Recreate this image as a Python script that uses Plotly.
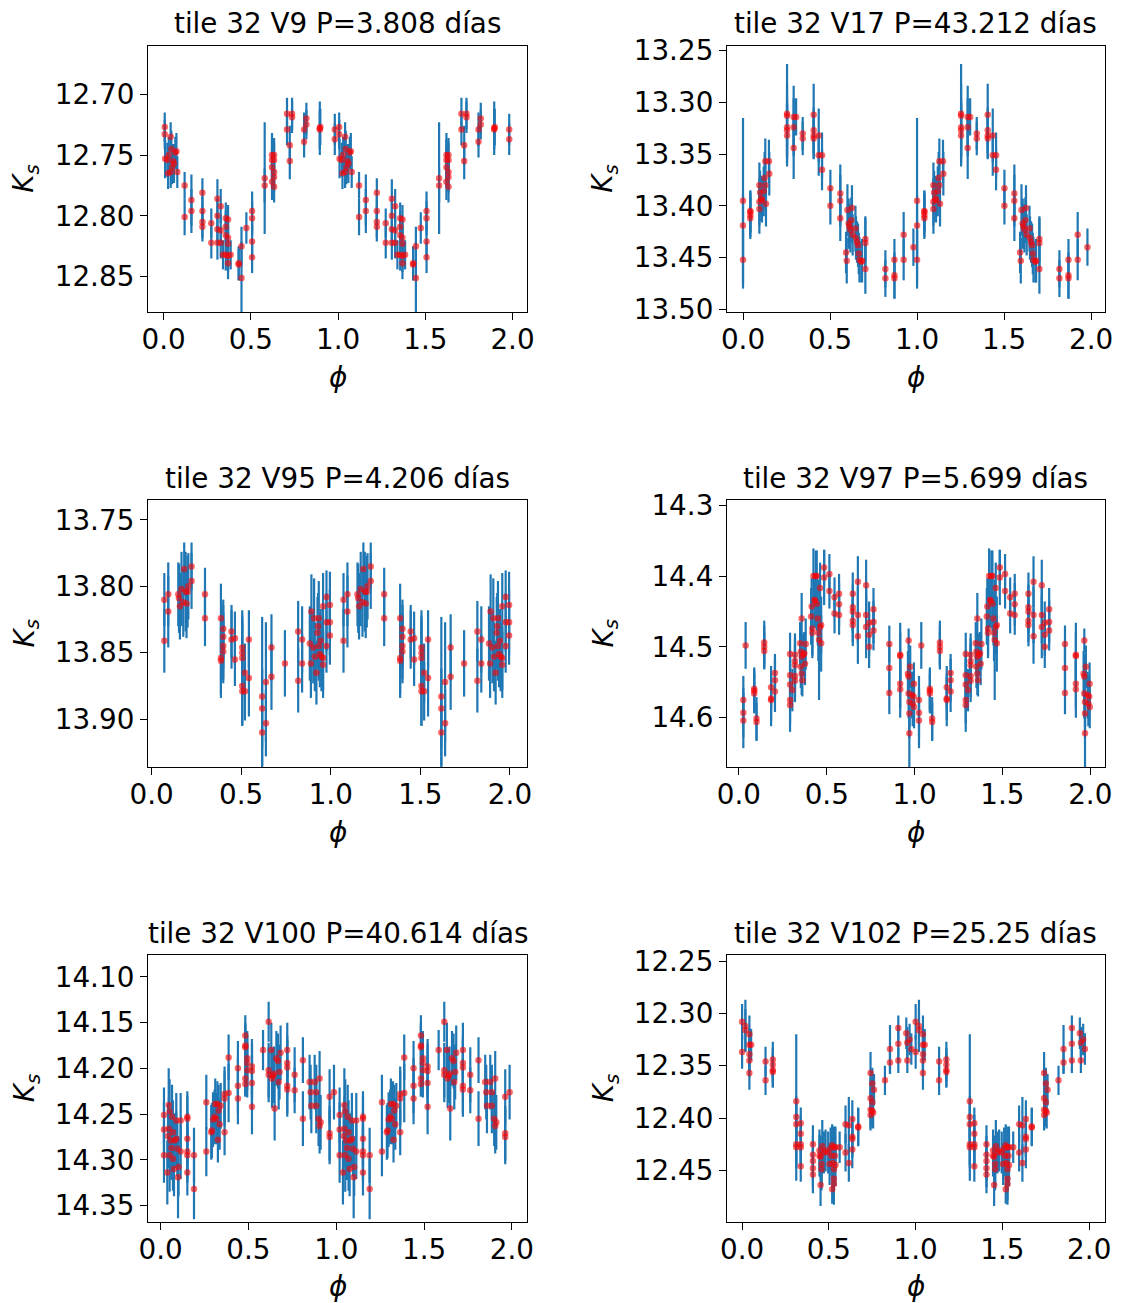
import numpy as np
import plotly.graph_objects as go

# ---- light-curve data (phase in [0, 1), Ks magnitude, error) ----
v9_phase = [0.006, 0.006, 0.008, 0.021, 0.025, 0.029, 0.040, 0.040, 0.044, 0.048, 0.054, 0.059, 0.067, 0.073, 0.078,
            0.120, 0.120, 0.159, 0.159, 0.222, 0.222, 0.222, 0.222, 0.273, 0.273, 0.308, 0.308, 0.308, 0.308,
            0.327, 0.327, 0.327, 0.340, 0.356, 0.356, 0.356, 0.356, 0.369, 0.369, 0.369, 0.369, 0.369, 0.384,
            0.430, 0.430, 0.446, 0.446, 0.474, 0.507, 0.507, 0.507, 0.507, 0.579, 0.579,
            0.621, 0.621, 0.621, 0.621, 0.633, 0.633, 0.633, 0.633, 0.633, 0.707, 0.707, 0.723, 0.723,
            0.736, 0.736, 0.805, 0.805, 0.818, 0.818, 0.895, 0.895, 0.898, 0.981, 0.981]
v9_mag = [12.727, 12.733, 12.753, 12.754, 12.765, 12.750, 12.735, 12.764, 12.745, 12.760, 12.755, 12.757, 12.748, 12.747, 12.764,
          12.775, 12.801, 12.787, 12.796, 12.781, 12.796, 12.805, 12.809, 12.806, 12.822, 12.786, 12.800, 12.811, 12.822,
          12.792, 12.812, 12.822, 12.832, 12.802, 12.809, 12.816, 12.832, 12.803, 12.818, 12.823, 12.833, 12.839, 12.832,
          12.839, 12.840, 12.825, 12.851, 12.810, 12.796, 12.802, 12.821, 12.834, 12.769, 12.775,
          12.750, 12.754, 12.760, 12.772, 12.750, 12.754, 12.764, 12.768, 12.776, 12.716, 12.729, 12.742, 12.755,
          12.716, 12.719, 12.729, 12.739, 12.720, 12.725, 12.728, 12.729, 12.727, 12.729, 12.737]
v9_err = [0.012, 0.012, 0.016, 0.014, 0.013, 0.015, 0.012, 0.013, 0.015, 0.014, 0.014, 0.016, 0.013, 0.015, 0.013,
          0.011, 0.015, 0.021, 0.018, 0.012, 0.012, 0.013, 0.012, 0.012, 0.013, 0.016, 0.014, 0.013, 0.014,
          0.014, 0.013, 0.013, 0.012, 0.013, 0.013, 0.014, 0.013, 0.012, 0.013, 0.014, 0.013, 0.013, 0.012,
          0.014, 0.013, 0.016, 0.030, 0.013, 0.016, 0.014, 0.014, 0.013, 0.046, 0.014,
          0.018, 0.017, 0.016, 0.015, 0.014, 0.014, 0.014, 0.013, 0.013, 0.013, 0.013, 0.016, 0.015,
          0.013, 0.013, 0.014, 0.013, 0.013, 0.012, 0.022, 0.016, 0.015, 0.013, 0.013]

v17_phase = [0.000, 0.000, 0.000, 0.042, 0.042, 0.042, 0.042, 0.094, 0.098, 0.094, 0.094, 0.105, 0.109, 0.119, 0.124,
             0.128, 0.132, 0.149, 0.151, 0.128, 0.253, 0.253, 0.253, 0.253, 0.253, 0.291, 0.291, 0.291, 0.305,
             0.343, 0.343, 0.406, 0.406, 0.406, 0.406, 0.435, 0.435, 0.454, 0.454, 0.502, 0.502,
             0.559, 0.559, 0.559, 0.592, 0.596, 0.600, 0.607, 0.611, 0.617, 0.622, 0.626, 0.630, 0.646, 0.649,
             0.655, 0.661, 0.665, 0.669, 0.680, 0.684, 0.703, 0.703, 0.703, 0.818, 0.818, 0.870, 0.870, 0.870,
             0.923, 0.923, 0.979]
v17_mag = [13.395, 13.419, 13.452, 13.405, 13.406, 13.409, 13.412, 13.380, 13.387, 13.396, 13.403, 13.393, 13.394, 13.386, 13.373,
           13.357, 13.398, 13.357, 13.369, 13.380, 13.311, 13.313, 13.324, 13.327, 13.332, 13.314, 13.324, 13.344, 13.314,
           13.330, 13.335, 13.312, 13.327, 13.332, 13.335, 13.332, 13.351, 13.351, 13.365, 13.383, 13.400,
           13.388, 13.395, 13.412, 13.445, 13.453, 13.404, 13.417, 13.420, 13.423, 13.414, 13.402, 13.428, 13.422, 13.431,
           13.435, 13.438, 13.446, 13.452, 13.454, 13.453, 13.432, 13.436, 13.461, 13.461, 13.470, 13.452, 13.467, 13.470,
           13.428, 13.452, 13.440]
v17_err = [0.080, 0.030, 0.028, 0.020, 0.020, 0.021, 0.020, 0.022, 0.021, 0.023, 0.024, 0.022, 0.022, 0.024, 0.025,
           0.022, 0.022, 0.021, 0.021, 0.023, 0.048, 0.030, 0.028, 0.026, 0.030, 0.030, 0.028, 0.030, 0.018,
           0.016, 0.016, 0.030, 0.022, 0.022, 0.020, 0.026, 0.020, 0.022, 0.020, 0.018, 0.018,
           0.028, 0.025, 0.022, 0.020, 0.022, 0.025, 0.024, 0.022, 0.022, 0.022, 0.022, 0.020, 0.022, 0.021,
           0.020, 0.021, 0.020, 0.022, 0.020, 0.021, 0.022, 0.024, 0.024, 0.018, 0.018, 0.020, 0.022, 0.020,
           0.022, 0.020, 0.018]

v95_phase = [0.071, 0.071, 0.093, 0.093, 0.149, 0.153, 0.158, 0.167, 0.177, 0.182, 0.190, 0.195, 0.201, 0.205, 0.223, 0.223,
             0.298, 0.298, 0.387, 0.387, 0.387, 0.400, 0.400, 0.400, 0.400, 0.446, 0.446, 0.465, 0.465,
             0.506, 0.506, 0.506, 0.506, 0.506, 0.521, 0.521, 0.543, 0.543, 0.617, 0.617, 0.617, 0.638, 0.638,
             0.669, 0.669, 0.744, 0.818, 0.818, 0.840, 0.840, 0.883, 0.889, 0.892, 0.902, 0.907, 0.911, 0.920,
             0.926, 0.929, 0.933, 0.933, 0.939, 0.944, 0.948, 0.957, 0.957, 0.957, 0.976, 0.976, 0.976,
             0.995, 0.995, 0.995]
v95_mag = [13.810, 13.841, 13.806, 13.819, 13.806, 13.809, 13.815, 13.802, 13.812, 13.787, 13.804, 13.813, 13.804, 13.800, 13.785, 13.796,
           13.806, 13.824, 13.824, 13.854, 13.856, 13.832, 13.838, 13.845, 13.849, 13.834, 13.840, 13.839, 13.855,
           13.846, 13.850, 13.854, 13.875, 13.879, 13.865, 13.879, 13.840, 13.869, 13.883, 13.892, 13.910, 13.872, 13.903,
           13.846, 13.868, 13.858, 13.834, 13.871, 13.840, 13.858, 13.843, 13.858, 13.819, 13.846, 13.824, 13.853, 13.865,
           13.835, 13.830, 13.824, 13.845, 13.851, 13.841, 13.853, 13.815, 13.859, 13.854, 13.808, 13.827, 13.845,
           13.814, 13.827, 13.837]
v95_err = [0.020, 0.024, 0.024, 0.027, 0.024, 0.026, 0.025, 0.028, 0.026, 0.020, 0.030, 0.026, 0.027, 0.025, 0.018, 0.021,
           0.020, 0.021, 0.026, 0.030, 0.025, 0.022, 0.024, 0.025, 0.024, 0.020, 0.022, 0.020, 0.020,
           0.028, 0.028, 0.028, 0.030, 0.026, 0.022, 0.022, 0.022, 0.029, 0.060, 0.030, 0.025, 0.045, 0.025,
           0.025, 0.025, 0.025, 0.023, 0.024, 0.025, 0.022, 0.028, 0.026, 0.028, 0.027, 0.030, 0.026, 0.024,
           0.027, 0.025, 0.028, 0.026, 0.025, 0.024, 0.026, 0.025, 0.025, 0.024, 0.020, 0.022, 0.020,
           0.025, 0.025, 0.022]

v97_phase = [0.025, 0.025, 0.025, 0.038, 0.087, 0.087, 0.087, 0.100, 0.100, 0.144, 0.144, 0.144, 0.183, 0.183, 0.183,
             0.205, 0.205, 0.205, 0.291, 0.291, 0.291, 0.291, 0.291, 0.304, 0.319, 0.319, 0.319, 0.319, 0.319,
             0.348, 0.352, 0.357, 0.352, 0.357, 0.361, 0.367, 0.376, 0.380, 0.357, 0.372,
             0.411, 0.414, 0.418, 0.424, 0.430, 0.433, 0.437, 0.443, 0.449, 0.452, 0.456, 0.462, 0.462, 0.468, 0.468,
             0.418, 0.443, 0.485, 0.485, 0.515, 0.515, 0.544, 0.544, 0.570, 0.570, 0.570,
             0.648, 0.648, 0.648, 0.648, 0.648, 0.677, 0.677, 0.677, 0.724, 0.724, 0.724, 0.741, 0.741, 0.741,
             0.766, 0.766, 0.766, 0.856, 0.856, 0.856, 0.918, 0.918, 0.918, 0.918,
             0.966, 0.962, 0.966, 0.966, 0.970, 0.970, 0.970, 0.975, 0.985, 0.989, 0.994, 0.996, 0.997]
v97_mag = [14.575, 14.593, 14.604, 14.498, 14.559, 14.562, 14.566, 14.601, 14.606, 14.494, 14.500, 14.506, 14.557, 14.573, 14.575,
           14.537, 14.547, 14.563, 14.510, 14.540, 14.553, 14.575, 14.582, 14.561, 14.511, 14.520, 14.526, 14.541, 14.548,
           14.495, 14.507, 14.514, 14.528, 14.538, 14.547, 14.511, 14.524, 14.496, 14.460, 14.509,
           14.457, 14.443, 14.474, 14.400, 14.434, 14.435, 14.400, 14.439, 14.460, 14.480, 14.490, 14.472, 14.417, 14.495, 14.469,
           14.480, 14.400, 14.388, 14.402, 14.397, 14.421, 14.430, 14.453, 14.425, 14.440, 14.455,
           14.425, 14.444, 14.450, 14.463, 14.469, 14.408, 14.455, 14.485, 14.413, 14.455, 14.472, 14.466, 14.483, 14.500,
           14.447, 14.465, 14.477, 14.496, 14.530, 14.565, 14.511, 14.513, 14.552, 14.560,
           14.491, 14.538, 14.542, 14.566, 14.578, 14.594, 14.622, 14.528, 14.568, 14.580, 14.570, 14.552, 14.585]
v97_err = [0.034, 0.035, 0.039, 0.033, 0.030, 0.030, 0.028, 0.030, 0.027, 0.031, 0.030, 0.026, 0.030, 0.030, 0.037,
           0.027, 0.030, 0.029, 0.030, 0.035, 0.035, 0.033, 0.038, 0.030, 0.030, 0.032, 0.030, 0.030, 0.030,
           0.030, 0.032, 0.030, 0.030, 0.030, 0.023, 0.030, 0.030, 0.036, 0.036, 0.030,
           0.040, 0.040, 0.038, 0.039, 0.038, 0.038, 0.036, 0.038, 0.038, 0.040, 0.085, 0.038, 0.036, 0.040, 0.040,
           0.036, 0.036, 0.025, 0.039, 0.028, 0.025, 0.028, 0.028, 0.028, 0.030, 0.028,
           0.030, 0.032, 0.030, 0.030, 0.030, 0.036, 0.040, 0.039, 0.036, 0.040, 0.044, 0.030, 0.030, 0.030,
           0.030, 0.030, 0.028, 0.026, 0.035, 0.030, 0.045, 0.033, 0.035, 0.040,
           0.017, 0.032, 0.032, 0.035, 0.035, 0.035, 0.050, 0.030, 0.033, 0.032, 0.030, 0.030, 0.030]

v100_phase = [0.019, 0.019, 0.019, 0.038, 0.042, 0.046, 0.047, 0.051, 0.051, 0.057, 0.061, 0.065, 0.070, 0.070, 0.076,
              0.080, 0.089, 0.089, 0.095, 0.099, 0.102, 0.114, 0.114, 0.152, 0.152, 0.152, 0.152, 0.152, 0.152,
              0.190, 0.190, 0.260, 0.260, 0.288, 0.292, 0.298, 0.307, 0.311, 0.317, 0.323, 0.326, 0.330, 0.336, 0.342,
              0.364, 0.364, 0.364, 0.387, 0.387, 0.440, 0.440, 0.440, 0.482, 0.482, 0.482, 0.482, 0.482,
              0.493, 0.493, 0.493, 0.520, 0.520, 0.520, 0.520, 0.583, 0.615, 0.615, 0.615,
              0.630, 0.634, 0.640, 0.645, 0.649, 0.659, 0.668, 0.672, 0.677, 0.683,
              0.721, 0.721, 0.721, 0.721, 0.721, 0.763, 0.763, 0.810, 0.810,
              0.848, 0.854, 0.858, 0.877, 0.886, 0.886, 0.899, 0.905, 0.905, 0.911, 0.962, 0.962, 0.962, 0.987]
v100_mag = [14.251, 14.267, 14.295, 14.314, 14.274, 14.240, 14.266, 14.247, 14.295, 14.279, 14.287, 14.253, 14.270, 14.299, 14.310,
            14.279, 14.257, 14.277, 14.288, 14.319, 14.308, 14.257, 14.291, 14.253, 14.255, 14.277, 14.291, 14.295, 14.314,
            14.295, 14.332, 14.237, 14.291, 14.270, 14.268, 14.256, 14.253, 14.239, 14.255, 14.239, 14.278, 14.246, 14.261, 14.241,
            14.228, 14.233, 14.270, 14.188, 14.227, 14.200, 14.219, 14.233, 14.164, 14.175, 14.177, 14.211, 14.217,
            14.189, 14.194, 14.202, 14.198, 14.203, 14.216, 14.242, 14.180, 14.149, 14.202, 14.207,
            14.180, 14.211, 14.208, 14.206, 14.244, 14.189, 14.192, 14.215, 14.204, 14.183,
            14.180, 14.194, 14.199, 14.219, 14.223, 14.207, 14.224, 14.191, 14.255,
            14.215, 14.226, 14.241, 14.215, 14.226, 14.241, 14.255, 14.211, 14.263, 14.259, 14.231, 14.271, 14.275, 14.226]
v100_err = [0.030, 0.030, 0.030, 0.035, 0.035, 0.040, 0.035, 0.035, 0.040, 0.035, 0.035, 0.035, 0.035, 0.035, 0.030,
            0.030, 0.030, 0.030, 0.030, 0.045, 0.032, 0.030, 0.030, 0.023, 0.030, 0.030, 0.030, 0.030, 0.025,
            0.030, 0.033, 0.030, 0.027, 0.030, 0.030, 0.030, 0.030, 0.028, 0.028, 0.025, 0.025, 0.028, 0.028, 0.025,
            0.030, 0.030, 0.025, 0.025, 0.032, 0.030, 0.030, 0.028, 0.022, 0.025, 0.025, 0.020, 0.013,
            0.030, 0.030, 0.030, 0.030, 0.030, 0.030, 0.030, 0.022, 0.022, 0.030, 0.030,
            0.030, 0.032, 0.030, 0.030, 0.035, 0.030, 0.030, 0.030, 0.030, 0.030,
            0.030, 0.030, 0.030, 0.030, 0.030, 0.030, 0.025, 0.025, 0.030,
            0.030, 0.030, 0.030, 0.030, 0.030, 0.030, 0.030, 0.030, 0.030, 0.030, 0.030, 0.030, 0.030, 0.030]

v102_phase = [0.000, 0.000, 0.019, 0.019, 0.042, 0.042, 0.042, 0.042, 0.042, 0.052, 0.135, 0.135,
              0.177, 0.177, 0.177, 0.177, 0.312, 0.312, 0.312, 0.312, 0.312, 0.338, 0.338, 0.338, 0.338, 0.338,
              0.408, 0.408, 0.408, 0.408, 0.408, 0.446, 0.446, 0.452, 0.452, 0.458, 0.458, 0.462, 0.471, 0.481,
              0.496, 0.504, 0.510, 0.515, 0.519, 0.523, 0.529, 0.529, 0.529, 0.529, 0.535, 0.538, 0.519, 0.538,
              0.562, 0.596, 0.596, 0.615, 0.615, 0.635, 0.635, 0.635, 0.635, 0.669, 0.669,
              0.740, 0.740, 0.740, 0.740, 0.750, 0.750, 0.750, 0.755, 0.760, 0.823, 0.852, 0.852,
              0.900, 0.900, 0.900, 0.946, 0.952, 0.952, 0.965, 0.975]
v102_mag = [12.308, 12.337, 12.312, 12.316, 12.320, 12.330, 12.339, 12.345, 12.357, 12.330, 12.346, 12.364,
            12.344, 12.349, 12.354, 12.356, 12.384, 12.399, 12.406, 12.425, 12.428, 12.405, 12.415, 12.425, 12.428, 12.446,
            12.425, 12.435, 12.441, 12.448, 12.454, 12.431, 12.436, 12.437, 12.464, 12.444, 12.449, 12.427, 12.433, 12.431,
            12.433, 12.444, 12.429, 12.436, 12.426, 12.443, 12.428, 12.449, 12.458, 12.463, 12.436, 12.428, 12.468, 12.445,
            12.428, 12.406, 12.433, 12.407, 12.443, 12.401, 12.418, 12.420, 12.430, 12.408, 12.409,
            12.357, 12.381, 12.392, 12.397, 12.367, 12.385, 12.393, 12.395, 12.373, 12.364, 12.334, 12.347,
            12.314, 12.329, 12.345, 12.319, 12.328, 12.345, 12.325, 12.334]
v102_err = [0.017, 0.016, 0.025, 0.020, 0.018, 0.016, 0.016, 0.016, 0.016, 0.015, 0.014, 0.014,
            0.017, 0.016, 0.016, 0.015, 0.064, 0.020, 0.020, 0.020, 0.032, 0.015, 0.018, 0.018, 0.018, 0.015,
            0.018, 0.018, 0.018, 0.018, 0.018, 0.020, 0.020, 0.020, 0.020, 0.020, 0.020, 0.025, 0.020, 0.020,
            0.020, 0.020, 0.020, 0.020, 0.020, 0.020, 0.020, 0.020, 0.020, 0.020, 0.020, 0.020, 0.014, 0.020,
            0.015, 0.018, 0.018, 0.027, 0.018, 0.018, 0.018, 0.018, 0.018, 0.018, 0.018,
            0.020, 0.020, 0.020, 0.013, 0.015, 0.015, 0.015, 0.015, 0.015, 0.014, 0.023, 0.011,
            0.012, 0.017, 0.012, 0.015, 0.015, 0.012, 0.015, 0.015]

titles = ["tile 32 V9 P=3.808 días", "tile 32 V17 P=43.212 días",
          "tile 32 V95 P=4.206 días", "tile 32 V97 P=5.699 días",
          "tile 32 V100 P=40.614 días", "tile 32 V102 P=25.25 días"]

stars = [(v9_phase, v9_mag, v9_err), (v17_phase, v17_mag, v17_err),
         (v95_phase, v95_mag, v95_err), (v97_phase, v97_mag, v97_err),
         (v100_phase, v100_mag, v100_err), (v102_phase, v102_mag, v102_err)]

# ---- axis settings per panel ----
x_ranges = [[-0.090, 2.083], [-0.092, 2.077], [-0.020, 2.095],
            [-0.068, 2.081], [-0.072, 2.086], [-0.087, 2.088]]
y_ranges = [[12.879, 12.660], [13.5026, 13.245], [13.936, 13.735],
            [14.6696, 14.2927], [14.3675, 14.076], [12.4989, 12.2442]]
y_ticks = [[12.70, 12.75, 12.80, 12.85], [13.25, 13.30, 13.35, 13.40, 13.45, 13.50],
           [13.75, 13.80, 13.85, 13.90], [14.3, 14.4, 14.5, 14.6],
           [14.10, 14.15, 14.20, 14.25, 14.30, 14.35], [12.25, 12.30, 12.35, 12.40, 12.45]]
y_fmt = [".2f", ".2f", ".2f", ".1f", ".2f", ".2f"]

W, H = 1123, 1303
col_px = [(148, 527), (727, 1104.5)]
row_px = [(45.5, 312), (500, 767), (955, 1221.5)]

FONT = "DejaVu Sans"
FS = 27.8
BLUE = "#1f77b4"

fig = go.Figure()
annotations = []
layout = {}

for i, (ph, mag, err) in enumerate(stars):
    n = i + 1
    r, c = divmod(i, 2)
    ph = np.asarray(ph)
    # two cycles of the folded light curve
    x = np.concatenate([ph, ph + 1.0])
    y = np.concatenate([mag, mag])
    e = np.concatenate([err, err])
    xa = "x" if n == 1 else f"x{n}"
    ya = "y" if n == 1 else f"y{n}"
    fig.add_trace(go.Scatter(
        x=x, y=y, mode="markers", xaxis=xa, yaxis=ya, showlegend=False,
        marker=dict(size=6.5, color="rgba(255,0,0,0.6)", line=dict(width=0)),
        error_y=dict(type="data", array=e, visible=True, color=BLUE, thickness=2.2, width=0),
    ))

    x0, x1 = col_px[c]
    y0, y1 = row_px[r]
    xdom = [x0 / W, x1 / W]
    ydom = [1 - y1 / H, 1 - y0 / H]
    axis_common = dict(showline=True, linecolor="black", linewidth=1.2, mirror=True,
                       ticks="outside", ticklen=7, tickwidth=1.2, tickcolor="black",
                       showgrid=False, zeroline=False, automargin=False,
                       tickfont=dict(family=FONT, size=FS, color="black"))
    layout["xaxis" if n == 1 else f"xaxis{n}"] = dict(
        domain=xdom, anchor=ya, range=x_ranges[i], ticklabelstandoff=-4,
        tickvals=[0.0, 0.5, 1.0, 1.5, 2.0], tickformat=".1f", **axis_common)
    layout["yaxis" if n == 1 else f"yaxis{n}"] = dict(
        domain=ydom, anchor=xa, range=y_ranges[i],
        tickvals=y_ticks[i], tickformat=y_fmt[i], **axis_common)

    xc = (xdom[0] + xdom[1]) / 2
    annotations.append(dict(text=titles[i], x=xc, y=ydom[1], xref="paper", yref="paper",
                            xanchor="center", yanchor="bottom", yshift=3, showarrow=False,
                            font=dict(family=FONT, size=FS, color="black")))
    annotations.append(dict(text="<i>ϕ</i>", x=xc, y=1 - (y1 + 65) / H, xref="paper", yref="paper",
                            xanchor="center", yanchor="middle", showarrow=False,
                            font=dict(family=FONT, size=FS, color="black")))
    kx = 26 if c == 0 else 605
    annotations.append(dict(text="<i>K</i><sub><i>s</i></sub>", x=kx / W, y=(ydom[0] + ydom[1]) / 2,
                            xref="paper", yref="paper", xanchor="center", yanchor="middle",
                            textangle=-90, showarrow=False,
                            font=dict(family=FONT, size=FS, color="black")))

fig.update_layout(width=W, height=H, margin=dict(l=0, r=0, t=0, b=0, autoexpand=False),
                  paper_bgcolor="white", plot_bgcolor="white",
                  annotations=annotations, **layout)

fig.write_html("out.html")
